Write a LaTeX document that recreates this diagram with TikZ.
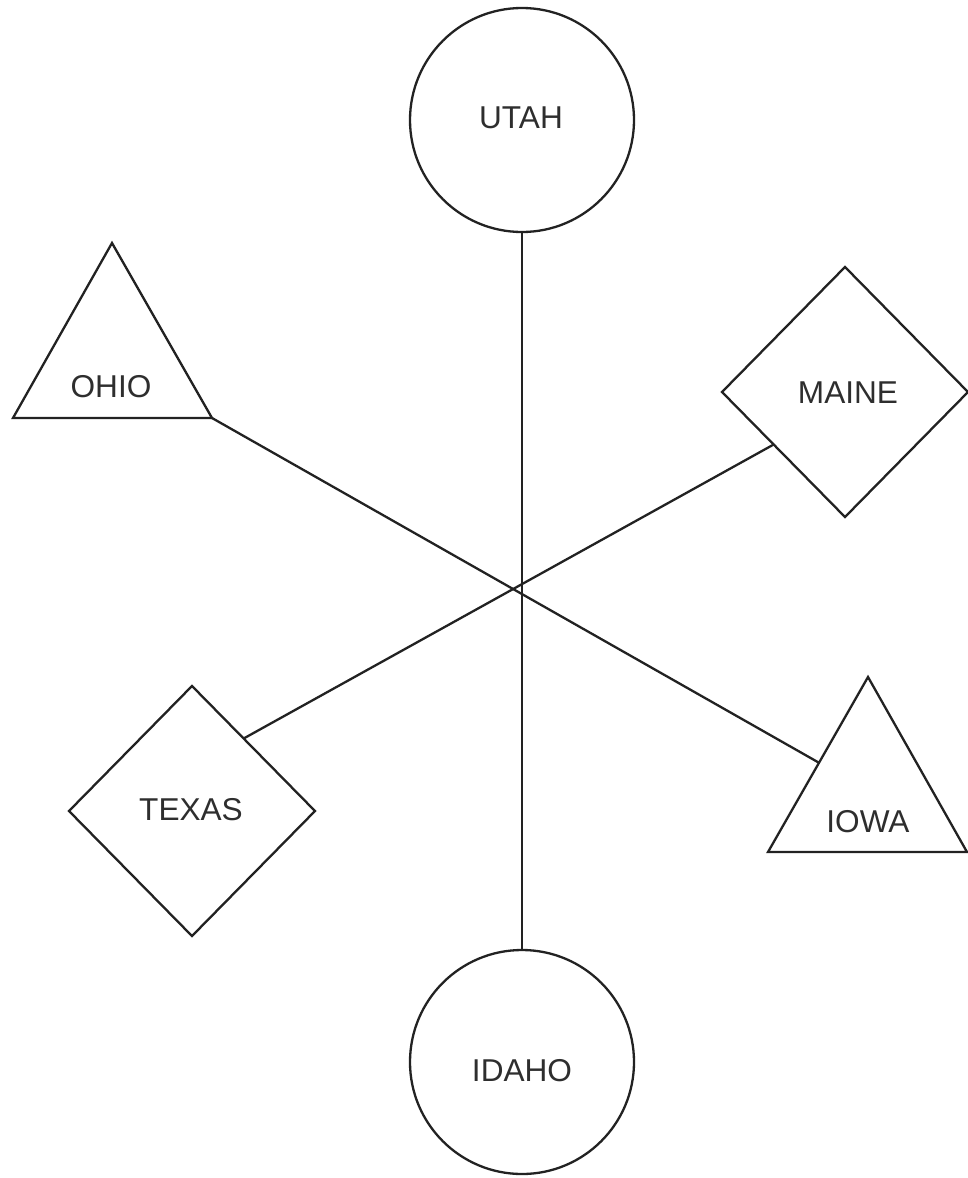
\documentclass[tikz,border=0pt]{standalone}
\usepackage{fontspec}
\setmainfont{Liberation Sans}
\usetikzlibrary{shapes.geometric,calc}
\definecolor{ink}{HTML}{222222}
\definecolor{txt}{HTML}{2E2E2E}
\begin{document}
\begin{tikzpicture}[x=0.5pt,y=-0.5pt,
  shapeline/.style={draw=ink,line width=1.15pt,line join=miter},
  roundnode/.style={shapeline,circle,minimum size=112pt,inner sep=0pt,outer sep=0pt},
  diamondnode/.style={shapeline,diamond,minimum width=123pt,minimum height=125pt,inner sep=0pt,outer sep=0pt},
  nametext/.style={text=txt,font=\fontsize{15.8}{19}\selectfont,inner sep=0pt},
  link/.style={draw=ink,line width=1.15pt}]
\useasboundingbox (0,0) rectangle (968,1178);
% circles
\node[roundnode] (utah) at (522,120) {};
\node[roundnode] (idaho) at (522,1062) {};
% diamonds
\node[diamondnode] (maine) at (845,392) {};
\node[diamondnode] (texas) at (192,811) {};
% triangles
\coordinate (ohioapex) at (112,243);
\coordinate (ohiol) at (13,418);
\coordinate (ohior) at (212,418);
\draw[shapeline] (ohiol) -- (ohioapex) -- (ohior) -- cycle;
\coordinate (iowaapex) at (868,677);
\coordinate (iowal) at (768,852);
\coordinate (iowar) at (967,852);
\draw[shapeline] (iowal) -- (iowaapex) -- (iowar) -- cycle;
% attachment points
\coordinate (maineport) at ($(maine.west)!0.42!(maine.south)$);
\coordinate (texasport) at ($(texas.north)!0.42!(texas.east)$);
\coordinate (iowaport) at ($(iowaapex)!0.49!(iowal)$);
% connectors
\draw[link] (utah.south) -- (idaho.north);
\draw[link] (ohior) -- (iowaport);
\draw[link] (maineport) -- (texasport);
% texts
\node[nametext] (utahtext) at (521,118) {UTAH};
\node[nametext] (idahotext) at (522,1071) {IDAHO};
\node[nametext] (ohiotext) at (111,387) {OHIO};
\node[nametext] (iowatext) at (868,822) {IOWA};
\node[nametext] (mainetext) at (848,393) {MAINE};
\node[nametext] (texastext) at (191,810) {TEXAS};
\end{tikzpicture}
\end{document}
